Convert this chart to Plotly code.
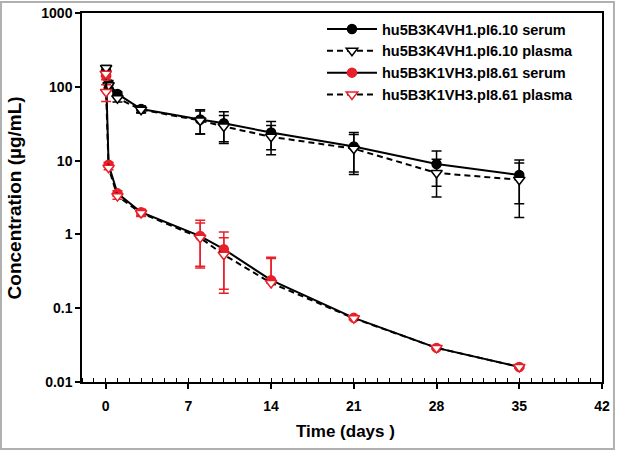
import plotly.graph_objects as go

# ---- data (days, µg/mL) ----
t_blk = [0.04, 0.25, 1, 3, 8, 10, 14, 21, 28, 35]
blk_serum = [165, 110, 80, 50, 36, 32, 24, 15.5, 9.0, 6.4]
blk_serum_sd = [20, 12, 6, 5, 13, 14, 10, 8.5, 4.5, 3.8]
blk_plasma = [180, 105, 70, 49, 35, 29, 21, 14.5, 6.8, 5.5]
blk_plasma_sd = [15, 10, 8, 5, 12, 12, 9, 8, 3.6, 3.8]

t_red_serum = [0.04, 0.25, 1, 3, 8, 10, 14, 21, 28, 35]
red_serum = [140, 8.8, 3.6, 2.0, 0.95, 0.63, 0.24, 0.074, 0.029, 0.016]
red_serum_sd = [15, 0.6, 0.3, 0.2, 0.6, 0.45, 0.25, 0.003, 0.001, 0.0005]
t_red_plasma = [0.01, 0.04, 0.25, 1, 3, 8, 10, 14, 21, 28, 35]
red_plasma = [150, 85, 8.0, 3.3, 1.95, 0.9, 0.53, 0.22, 0.073, 0.029, 0.016]
red_plasma_sd = [10, 22, 0.5, 0.3, 0.2, 0.53, 0.37, 0.25, 0.003, 0.001, 0.0005]

names = ["hu5B3K4VH1.pI6.10 serum", "hu5B3K4VH1.pI6.10 plasma",
         "hu5B3K1VH3.pI8.61 serum", "hu5B3K1VH3.pI8.61 plasma"]

x_ticks = [0, 7, 14, 21, 28, 35, 42]
y_ticks = [0.01, 0.1, 1, 10, 100, 1000]
y_labels = ["0.01", "0.1", "1", "10", "100", "1000"]

FONT = "Liberation Sans, Arial, sans-serif"
RED = "#e8202a"


def lower(vals, sds):
    return [s if v - s > 0 else 0 for v, s in zip(vals, sds)]


fig = go.Figure()


def add(t, v, sd, name, color, symbol, dash, fill):
    fig.add_trace(go.Scatter(
        x=t, y=v, name=name, mode="lines+markers",
        line=dict(color="black", width=2, dash=dash),
        marker=dict(symbol=symbol, size=9 if symbol == "circle" else 10,
                    color=fill, line=dict(color=color, width=1.5)),
        error_y=dict(type="data", array=sd, arrayminus=lower(v, sd),
                     color=color, thickness=1.5, width=5),
    ))


add(t_blk, blk_serum, blk_serum_sd, names[0], "black", "circle", "solid", "black")
add(t_blk, blk_plasma, blk_plasma_sd, names[1], "black", "triangle-down", "6px,4px", "white")
add(t_red_serum, red_serum, red_serum_sd, names[2], RED, "circle", "solid", RED)
add(t_red_plasma, red_plasma, red_plasma_sd, names[3], RED, "triangle-down", "6px,4px", "white")

bold14 = dict(size=14, family=FONT, weight="bold", color="black")

fig.update_layout(
    width=618, height=452,
    margin=dict(l=82, r=16, t=13, b=70),
    paper_bgcolor="white", plot_bgcolor="white",
    font=dict(family=FONT, color="black"),
    showlegend=True,
    legend=dict(x=0.4615, y=1, xanchor="left", yanchor="top",
                borderwidth=0, bgcolor="rgba(0,0,0,0)",
                font=dict(size=14.5, family=FONT, weight="bold", color="black"),
                itemwidth=50, tracegroupgap=0),
    xaxis=dict(range=[-2, 42], tickvals=x_ticks, showgrid=False, zeroline=False,
               showline=True, mirror=True, linecolor="black", linewidth=1.5,
               ticks="outside", ticklen=5, tickwidth=1.5, tickcolor="black",
               tickfont=bold14, ticklabelstandoff=5, automargin=False,
               minor=dict(ticks="inside", dtick=1, tick0=0, ticklen=4,
                          tickcolor="black", tickwidth=1)),
    yaxis=dict(type="log", range=[-2, 3], tickvals=y_ticks, ticktext=y_labels,
               showgrid=False, zeroline=False,
               showline=True, mirror=True, linecolor="black", linewidth=1.5,
               ticks="outside", ticklen=5, tickwidth=1.5, tickcolor="black",
               tickfont=bold14, automargin=False),
    annotations=[
        dict(text="Time (days )", xref="paper", yref="paper", x=0.506, y=-0.1355,
             xanchor="center", yanchor="middle", showarrow=False,
             font=dict(size=17, family=FONT, weight="bold", color="black")),
        dict(text="Concentration (µg/mL)", xref="paper", yref="paper", x=-0.129, y=0.5,
             xanchor="center", yanchor="middle", showarrow=False, textangle=-90,
             font=dict(size=19, family=FONT, weight="bold", color="black")),
    ],
    shapes=[dict(type="rect", xref="paper", yref="paper",
                 x0=-0.1558, x1=1.023, y0=-0.1816, y1=1.0298,
                 line=dict(color="#b0b0b0", width=2))],
)

fig.write_html("out.html", config={"displayModeBar": False},
               post_script="document.body.style.margin='0px';document.body.style.padding='0px';")
